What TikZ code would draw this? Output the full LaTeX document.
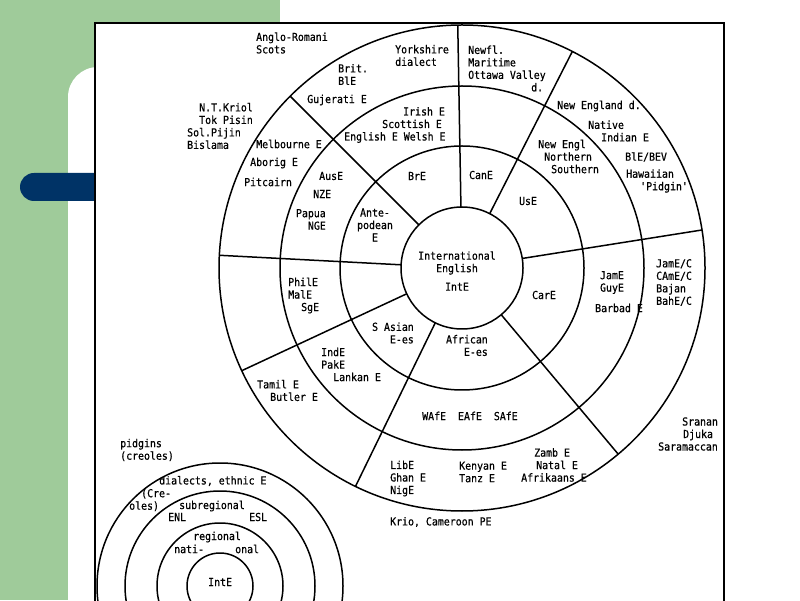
\documentclass[tikz,border=0pt]{standalone}
\usepackage{fontspec}
\usepackage{tikz}
\usetikzlibrary{calc}
\newfontfamily\typefont[FakeStretch=0.9, FakeBold=0.6]{DejaVu Sans Mono}
\definecolor{slidegreen}{HTML}{9FCB9A}
\definecolor{slideblue}{HTML}{003366}
\newcommand{\rInt}{61pt}
\newcommand{\rNat}{122pt}
\newcommand{\rReg}{182pt}
\newcommand{\rOut}{243pt}

\begin{document}
\begin{tikzpicture}[x=1pt, y=1pt,
    lbl/.style={font=\typefont\fontsize{11}{12.5}\selectfont, inner sep=0pt, align=left, anchor=west},
    ring/.style={line width=1.5pt}]
  \useasboundingbox (0,0) rectangle (800,600);
  \clip (0,0) rectangle (800,600);
  % slide background
  \fill[slidegreen] (0,0) rectangle (280,600);
  \fill[white, rounded corners=30pt] (68,-50) rectangle (850,533);
  \fill[slideblue, rounded corners=14pt] (20,399) rectangle (120,427);
  \draw[fill=white, line width=1.2pt] (95,-20) rectangle (724,577);

  % circle model
  \coordinate (C) at (462,332);
  \foreach \r in {\rInt,\rNat,\rReg,\rOut}
    \draw[ring] (C) circle (\r);
  \foreach \a in {91,63,9,-50,244,205,177,135}
    \draw[ring] ($(C)+(\a:\rInt)$) -- ($(C)+(\a:\rOut)$);

  % centre
  \node[lbl, anchor=center, align=center] (intl) at (457,329) {International\\English\\[6pt]IntE};
  % national ring
  \node[lbl, anchor=center] (bre) at (417,424) {BrE};
  \node[lbl, anchor=center] (cane) at (481,425) {CanE};
  \node[lbl, anchor=center] (use) at (528,399) {UsE};
  \node[lbl, anchor=center] (care) at (544,305) {CarE};
  \node[lbl, anchor=east, align=right] (african) at (488,254.5) {African\\E-es};
  \node[lbl, anchor=east, align=right] (sasian) at (414,267) {S Asian\\E-es};
  \node[lbl, anchor=center, align=center] (ante) at (375,375) {Ante-\\podean\\E};
  % regional ring
  \node[lbl] (irish) at (344,475) {\hspace*{59pt}Irish E\\\hspace*{38pt}Scottish E\\English E Welsh E};
  \node[lbl] (newengl) at (538,443.5) {New Engl\\\hspace*{6pt}Northern\\\hspace*{13pt}Southern};
  \node[lbl, anchor=center, align=center] (jame) at (612,317.5) {JamE\\GuyE};
  \node[lbl, anchor=center] (barbad) at (619,292) {Barbad E};
  \node[lbl] (afe) at (422,184) {WAfE\hspace*{12pt}EAfE\hspace*{12pt}SAfE};
  \node[lbl] (inde) at (321,235.5) {IndE\\PakE\\\hspace*{12pt}Lankan E};
  \node[lbl] (phil) at (288,304.5) {PhilE\\MalE\\\hspace*{13pt}SgE};
  \node[lbl] (ause) at (319,424) {AusE};
  \node[lbl] (nze) at (313,406) {NZE};
  \node[lbl, anchor=east, align=right] (papua) at (326,380.5) {Papua\\NGE};
  % local ring
  \node[lbl] (brit) at (338,525.5) {Brit.\\BlE};
  \node[lbl] (yorks) at (395,544.5) {Yorkshire\\dialect};
  \node[lbl] (gujer) at (307,500) {Gujerati E};
  \node[lbl] (newfl) at (468,531.5) {Newfl.\\Maritime\\Ottawa Valley\\\hspace*{63pt}d.};
  \node[lbl] (newengd) at (557,494) {New England d.};
  \node[lbl] (native) at (588,469) {Native\\\hspace*{13pt}Indian E};
  \node[lbl] (blebev) at (625,443) {BlE/BEV};
  \node[lbl] (hawaii) at (626,419) {Hawaiian\\\hspace*{14pt}'Pidgin'};
  \node[lbl] (jamec) at (656,317.5) {JamE/C\\CAmE/C\\Bajan\\BahE/C};
  \node[lbl] (zamb) at (521,135) {\hspace*{13pt}Zamb E\\\hspace*{15pt}Natal E\\Afrikaans E};
  \node[lbl] (kenyan) at (459,128) {Kenyan E\\Tanz E};
  \node[lbl] (libe) at (390,121.5) {LibE\\Ghan E\\NigE};
  \node[lbl] (tamil) at (257,209.5) {Tamil E\\\hspace*{13pt}Butler E};
  \node[lbl] (melb) at (256,456) {Melbourne E};
  \node[lbl] (aborig) at (250,437) {Aborig E};
  \node[lbl] (pitc) at (244,418) {Pitcairn};
  % outside
  \node[lbl] (anglo) at (256,557) {Anglo-Romani\\Scots};
  \node[lbl] (kriol) at (187,474) {\hspace*{12pt}N.T.Kriol\\\hspace*{12pt}Tok Pisin\\Sol.Pijin\\Bislama};
  \node[lbl] (sranan) at (658,166) {\hspace*{24pt}Sranan\\\hspace*{25pt}Djuka\\Saramaccan};
  \node[lbl] (krio) at (390,78) {Krio, Cameroon PE};

  % small key circles
  \coordinate (K) at (220,14);
  \foreach \r in {33pt,63pt,95pt,123pt}
    \draw[ring] (K) circle (\r);
  \node[lbl] (pidg) at (120,150) {pidgins\\(creoles)};
  \node[lbl] (dial) at (159,119) {dialects, ethnic E};
  \node[lbl] (creo) at (129,100) {\hspace*{12pt}(Cre-\\oles)};
  \node[lbl] (subr) at (179,94) {subregional};
  \node[lbl] (enl) at (168,83) {ENL};
  \node[lbl] (esl) at (249,83) {ESL};
  \node[lbl] (regl) at (193,63) {regional};
  \node[lbl] (nati) at (174,51) {nati-};
  \node[lbl] (onal) at (235,51) {onal};
  \node[lbl] (inte) at (208,18) {IntE};
\end{tikzpicture}
\end{document}
